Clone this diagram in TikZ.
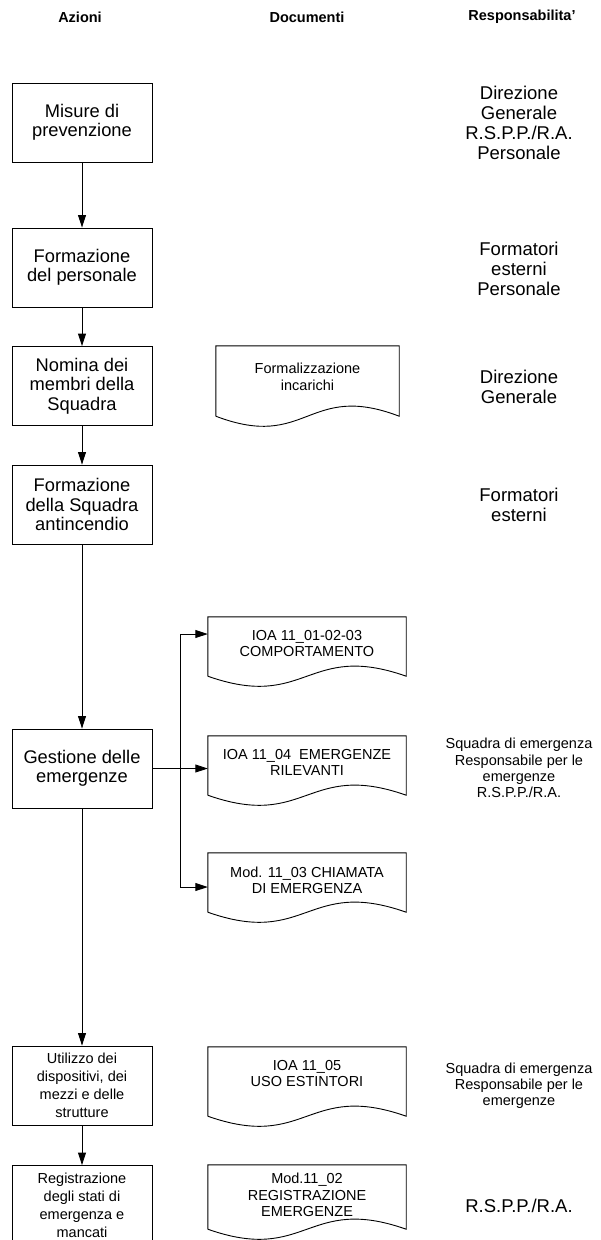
\documentclass[tikz,border=0pt]{standalone}
\usepackage{fontspec}
\setmainfont{Liberation Sans}
\usetikzlibrary{arrows.meta,calc}
\begin{document}
\begin{tikzpicture}[x=1pt,y=-1pt,
  act/.style={draw=black, line width=0.9pt, minimum width=140pt, minimum height=79pt, align=center, inner sep=2pt, font=\fontsize{18.3}{19.5}\selectfont},
  actsm/.style={act, font=\fontsize{14.5}{18}\selectfont},
  resp/.style={align=center, inner sep=0pt, font=\fontsize{18.5}{20}\selectfont},
  respsm/.style={align=center, inner sep=0pt, font=\fontsize{14.5}{16.2}\selectfont},
  docbox/.style={draw=none, inner sep=0pt, minimum width=198pt},
  doctxt/.style={align=center, inner sep=0pt, font=\fontsize{14.5}{16.5}\selectfont},
  hdr/.style={font=\bfseries\fontsize{14.5}{16}\selectfont, inner sep=0pt},
  arr/.style={-{Triangle[length=12.5pt,width=8pt]}, line width=0.9pt},
  ln/.style={line width=0.9pt},
  docline/.style={line width=0.9pt, draw=black},
]
\useasboundingbox (0,0) rectangle (600,1240);
\clip (0,0) rectangle (600,1240);

% headers
\node[hdr] (h1) at (80,17) {Azioni};
\node[hdr] (h2) at (307,17) {Documenti};
\node[hdr] (h3) at (522,17) {Responsabilita'};

% action boxes
\node[act] (b1) at (82,122.5) {Misure di\\prevenzione};
\node[act] (b2) at (82,267.5) {Formazione\\del personale};
\node[act] (b3) at (82,386) {Nomina dei\\membri della\\Squadra};
\node[act] (b4) at (82,504.5) {Formazione\\della Squadra\\antincendio};
\node[act] (b5) at (82,768.5) {Gestione delle\\emergenze};
\node[actsm] (b6) at (82,1085.5) {Utilizzo dei\\dispositivi, dei\\mezzi e delle\\strutture};
\node[actsm] (b7) at (82,1205) {Registrazione\\degli stati di\\emergenza e\\mancati};

% arrows between actions
\draw[arr] (b1) -- (b2);
\draw[arr] (b2) -- (b3);
\draw[arr] (b3) -- (b4);
\draw[arr] (b4) -- (b5);
\draw[arr] (b5) -- (b6);
\draw[arr] (b6) -- (b7);

% documents
\newcommand{\wavedoc}[1]{%
  \draw[docline] (#1.south west) -- (#1.north west) -- (#1.north east) -- (#1.south east)
    .. controls ($(#1.south)+(0,-35)$) and ($(#1.south)+(0,35)$) .. (#1.south west);}

\node[docbox, minimum width=183pt, minimum height=70pt] (d0) at (307.5,381) {};
\wavedoc{d0}
\node[doctxt] (d0t) at ([yshift=4pt]d0.center) {Formalizzazione\\incarichi};

\node[docbox, minimum height=59pt] (d1) at (307,646.5) {};
\wavedoc{d1}
\node[doctxt] (d1t) at ([yshift=3pt]d1.center) {IOA 11\_01-02-03\\COMPORTAMENTO};

\node[docbox, minimum height=59pt] (d2) at (307,765.5) {};
\wavedoc{d2}
\node[doctxt] (d2t) at ([yshift=3pt]d2.center) {IOA 11\_04\ \ EMERGENZE\\RILEVANTI};

\node[docbox, minimum height=59pt] (d3) at (307,882.5) {};
\wavedoc{d3}
\node[doctxt] (d3t) at ([yshift=2pt]d3.center) {Mod. 11\_03 CHIAMATA\\DI EMERGENZA};

\node[docbox, minimum height=69pt] (d4) at (307,1081.5) {};
\wavedoc{d4}
\node[doctxt] (d4t) at ([yshift=8pt]d4.center) {IOA 11\_05\\USO ESTINTORI};

\node[docbox, minimum height=64pt] (d5) at (307,1197) {};
\wavedoc{d5}
\node[doctxt] (d5t) at ([yshift=2pt]d5.center) {Mod.11\_02\\REGISTRAZIONE\\EMERGENZE};

% branch connectors
\coordinate (bt) at (180,634);
\coordinate (bb) at (180,887);
\draw[ln] (bt) -- (bb);
\draw[arr] (bt) -- (bt -| d1.west);
\draw[arr] (bb) -- (bb -| d3.west);
\draw[arr] (b5.east) -- (b5.east -| d2.west);

% responsibilities
\node[resp] (r1) at (519,123) {Direzione\\Generale\\R.S.P.P./R.A.\\Personale};
\node[resp] (r2) at (519,269) {Formatori\\esterni\\Personale};
\node[resp] (r3) at (519,387) {Direzione\\Generale};
\node[resp] (r4) at (519,505) {Formatori\\esterni};
\node[respsm] (r5) at (519,768) {Squadra di emergenza\\Responsabile per le\\emergenze\\R.S.P.P./R.A.};
\node[respsm] (r6) at (519,1086) {Squadra di emergenza\\Responsabile per le\\emergenze};
\node[resp] (r7) at (519,1206) {R.S.P.P./R.A.};
\end{tikzpicture}
\end{document}
